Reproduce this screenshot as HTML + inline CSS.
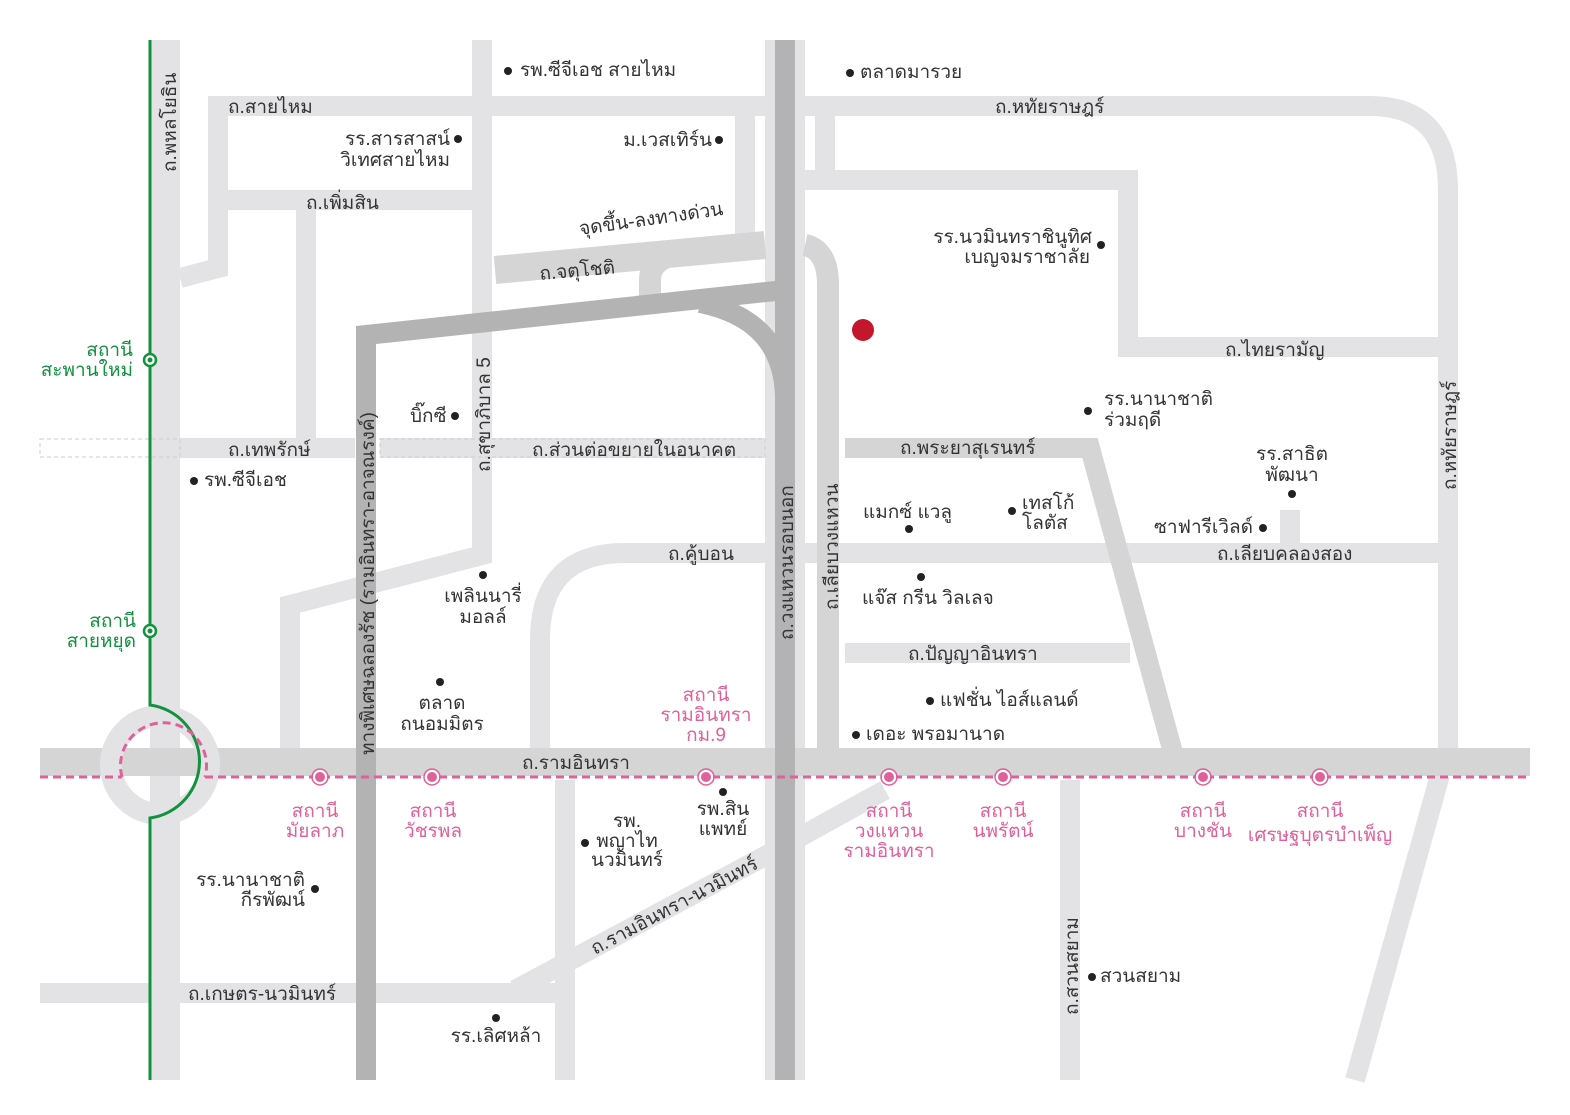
<!DOCTYPE html>
<html><head><meta charset="utf-8"><style>
html,body{margin:0;padding:0;background:#fff}
svg{display:block}
text{font-family:"Liberation Sans","DejaVu Sans",sans-serif;font-size:19px;fill:#333}
.p{fill:#e0609a}
.g{fill:#12923f}
</style></head><body>
<svg width="1570" height="1115" viewBox="0 0 1570 1115">
<g stroke="#e3e3e5" fill="none" stroke-width="20">
<line x1="165" y1="40" x2="165" y2="1080" stroke-width="30"/>
<line x1="208" y1="106" x2="770" y2="106"/>
<path d="M805 106 H1370 Q1448 106 1448 190 V760"/>
<line x1="1440" y1="775" x2="1355" y2="1080"/>
<polyline points="218,106 218,268 180,278"/>
<line x1="228" y1="200" x2="482" y2="200"/>
<line x1="306" y1="200" x2="306" y2="440"/>
<polyline points="482,40 482,555 290,605 290,760"/>
<line x1="745" y1="106" x2="745" y2="240"/>
<line x1="825" y1="106" x2="825" y2="175"/>
<polyline points="805,180 1128,180 1128,347 1448,347"/>
<line x1="180" y1="448" x2="355" y2="448"/>
<line x1="380" y1="448" x2="765" y2="448"/>
<path d="M1440 553 H625 Q540 553 540 640 V760"/>
<line x1="565" y1="780" x2="565" y2="1080"/>
<line x1="845" y1="653" x2="1130" y2="653"/>
<line x1="1290" y1="510" x2="1290" y2="553"/>
<line x1="40" y1="993" x2="560" y2="993"/>
<polyline points="515,990 780,848 885,790"/>
<line x1="1070" y1="780" x2="1070" y2="1080"/>
<line x1="785" y1="40" x2="785" y2="1080" stroke-width="40"/>
</g>
<rect x="40" y="439" width="140" height="18" fill="none" stroke="#ccc" stroke-dasharray="4 3"/>
<rect x="380" y="439" width="385" height="18" fill="none" stroke="#ccc" stroke-dasharray="4 3"/>
<g stroke="#d5d5d5" fill="none">
<line x1="40" y1="762" x2="1530" y2="762" stroke-width="28"/>
<polyline points="845,448 1090,448 1175,760" stroke-width="20"/>
<path d="M805 245 Q828 250 828 285 V750" stroke-width="22"/>
<line x1="495" y1="270" x2="765" y2="245" stroke-width="28"/>
<path d="M650 296 V280 Q650 255 690 253" stroke-width="22"/>
<circle cx="160" cy="765" r="49" stroke-width="22" stroke="#e3e3e5"/>
</g>
<g stroke="#b3b3b3" fill="none" stroke-width="20">
<line x1="785" y1="40" x2="785" y2="1080"/>
<polyline points="366,1080 366,335 785,290"/>
<path d="M700 303 Q785 320 785 400"/>
</g>
<path d="M150 40 V705 A57 57 0 0 1 150 818 V1080" stroke="#12923f" stroke-width="3" fill="none"/>
<circle cx="150" cy="360" r="6" fill="#fff" stroke="#12923f" stroke-width="2.5"/><circle cx="150" cy="360" r="2.5" fill="#12923f"/>
<circle cx="150" cy="631" r="6" fill="#fff" stroke="#12923f" stroke-width="2.5"/><circle cx="150" cy="631" r="2.5" fill="#12923f"/>
<g stroke="#e0609a" stroke-width="3" fill="none" stroke-dasharray="8 5">
<line x1="40" y1="777" x2="122" y2="777"/>
<line x1="205" y1="777" x2="1530" y2="777"/>
<path d="M122 777 A43 43 0 1 1 205 777"/>
</g>
<g fill="#e0609a" stroke="#fff" stroke-width="2">
<circle cx="320" cy="777" r="6"/><circle cx="432" cy="777" r="6"/><circle cx="706" cy="777" r="6"/><circle cx="889" cy="777" r="6"/><circle cx="1003" cy="777" r="6"/><circle cx="1203" cy="777" r="6"/><circle cx="1320" cy="777" r="6"/>
</g>
<g fill="none" stroke="#e0609a" stroke-width="1.5">
<circle cx="320" cy="777" r="8"/><circle cx="432" cy="777" r="8"/><circle cx="706" cy="777" r="8"/><circle cx="889" cy="777" r="8"/><circle cx="1003" cy="777" r="8"/><circle cx="1203" cy="777" r="8"/><circle cx="1320" cy="777" r="8"/>
</g>
<circle cx="863" cy="330" r="11" fill="#c4172c"/>
<g fill="#222">
<circle cx="508" cy="71" r="4"/><circle cx="850" cy="73" r="4"/><circle cx="458" cy="139" r="4"/><circle cx="719" cy="140" r="4"/>
<circle cx="1101" cy="245" r="4"/><circle cx="455" cy="416" r="4"/><circle cx="1088" cy="411" r="4"/><circle cx="194" cy="481" r="4"/>
<circle cx="1292" cy="494" r="4"/><circle cx="909" cy="529" r="4"/><circle cx="1012" cy="511" r="4"/><circle cx="1263" cy="528" r="4"/>
<circle cx="483" cy="575" r="4"/><circle cx="921" cy="577" r="4"/><circle cx="440" cy="682" r="4"/><circle cx="930" cy="701" r="4"/>
<circle cx="856" cy="735" r="4"/><circle cx="723" cy="792" r="4"/><circle cx="585" cy="843" r="4"/><circle cx="315" cy="889" r="4"/>
<circle cx="1092" cy="977" r="4"/><circle cx="496" cy="1018" r="4"/>
</g>
<text x="520" y="76">รพ.ซีจีเอช สายไหม</text>
<text x="860" y="78">ตลาดมารวย</text>
<text x="228" y="113">ถ.สายไหม</text>
<text x="995" y="113">ถ.หทัยราษฎร์</text>
<text x="450" y="145" text-anchor="end">รร.สารสาสน์</text>
<text x="450" y="166" text-anchor="end">วิเทศสายไหม</text>
<text x="712" y="146" text-anchor="end">ม.เวสเทิร์น</text>
<text x="306" y="209">ถ.เพิ่มสิน</text>
<text x="580" y="235" transform="rotate(-8 580 235)" fill="#555">จุดขึ้น-ลงทางด่วน</text>
<text x="540" y="280" transform="rotate(-5 540 280)">ถ.จตุโชติ</text>
<text x="1092" y="243" text-anchor="end">รร.นวมินทราชินูทิศ</text>
<text x="1090" y="263" text-anchor="end">เบญจมราชาลัย</text>
<text x="1225" y="356">ถ.ไทยรามัญ</text>
<text x="1104" y="405">รร.นานาชาติ</text>
<text x="1104" y="426">ร่วมฤดี</text>
<text x="410" y="422">บิ๊กซี</text>
<text x="228" y="456">ถ.เทพรักษ์</text>
<text x="532" y="456">ถ.ส่วนต่อขยายในอนาคต</text>
<text x="900" y="454">ถ.พระยาสุเรนทร์</text>
<text x="1292" y="460" text-anchor="middle">รร.สาธิต</text>
<text x="1292" y="481" text-anchor="middle">พัฒนา</text>
<text x="204" y="486">รพ.ซีจีเอช</text>
<text x="863" y="518">แมกซ์ แวลู</text>
<text x="1022" y="509">เทสโก้</text>
<text x="1022" y="529">โลตัส</text>
<text x="1253" y="533" text-anchor="end">ซาฟารีเวิลด์</text>
<text x="668" y="560">ถ.คู้บอน</text>
<text x="1217" y="560">ถ.เลียบคลองสอง</text>
<text x="483" y="602" text-anchor="middle">เพลินนารี่</text>
<text x="483" y="623" text-anchor="middle">มอลล์</text>
<text x="862" y="604">แจ๊ส กรีน วิลเลจ</text>
<text x="908" y="660">ถ.ปัญญาอินทรา</text>
<text x="442" y="709" text-anchor="middle">ตลาด</text>
<text x="442" y="730" text-anchor="middle">ถนอมมิตร</text>
<text x="940" y="706">แฟชั่น ไอส์แลนด์</text>
<text x="866" y="740">เดอะ พรอมานาด</text>
<text x="522" y="769">ถ.รามอินทรา</text>
<text x="723" y="815" text-anchor="middle">รพ.สิน</text>
<text x="723" y="835" text-anchor="middle">แพทย์</text>
<text x="627" y="827" text-anchor="middle">รพ.</text>
<text x="627" y="847" text-anchor="middle">พญาไท</text>
<text x="627" y="866" text-anchor="middle">นวมินทร์</text>
<text x="305" y="886" text-anchor="end">รร.นานาชาติ</text>
<text x="305" y="906" text-anchor="end">กีรพัฒน์</text>
<text x="595" y="955" transform="rotate(-28 595 955)">ถ.รามอินทรา-นวมินทร์</text>
<text x="1100" y="982">สวนสยาม</text>
<text x="188" y="1000">ถ.เกษตร-นวมินทร์</text>
<text x="496" y="1042" text-anchor="middle">รร.เลิศหล้า</text>
<text transform="translate(176 172) rotate(-90)">ถ.พหลโยธิน</text>
<text transform="translate(490 472) rotate(-90)">ถ.สุขาภิบาล 5</text>
<text transform="translate(374 755) rotate(-90)">ทางพิเศษฉลองรัช (รามอินทรา-อาจณรงค์)</text>
<text transform="translate(793 640) rotate(-90)">ถ.วงแหวนรอบนอก</text>
<text transform="translate(838 610) rotate(-90)">ถ.เลียบวงแหวน</text>
<text transform="translate(1456 490) rotate(-90)">ถ.หทัยราษฎร์</text>
<text transform="translate(1078 1015) rotate(-90)">ถ.สวนสยาม</text>
<text class="g" x="133" y="356" text-anchor="end">สถานี</text><text class="g" x="133" y="376" text-anchor="end">สะพานใหม่</text>
<text class="g" x="136" y="627" text-anchor="end">สถานี</text><text class="g" x="136" y="647" text-anchor="end">สายหยุด</text>
<text class="p" x="706" y="701" text-anchor="middle">สถานี</text><text class="p" x="706" y="721" text-anchor="middle">รามอินทรา</text><text class="p" x="706" y="741" text-anchor="middle">กม.9</text>
<text class="p" x="315" y="817" text-anchor="middle">สถานี</text><text class="p" x="315" y="837" text-anchor="middle">มัยลาภ</text>
<text class="p" x="433" y="817" text-anchor="middle">สถานี</text><text class="p" x="433" y="837" text-anchor="middle">วัชรพล</text>
<text class="p" x="889" y="817" text-anchor="middle">สถานี</text><text class="p" x="889" y="837" text-anchor="middle">วงแหวน</text><text class="p" x="889" y="857" text-anchor="middle">รามอินทรา</text>
<text class="p" x="1003" y="817" text-anchor="middle">สถานี</text><text class="p" x="1003" y="837" text-anchor="middle">นพรัตน์</text>
<text class="p" x="1203" y="817" text-anchor="middle">สถานี</text><text class="p" x="1203" y="837" text-anchor="middle">บางชัน</text>
<text class="p" x="1320" y="817" text-anchor="middle">สถานี</text><text class="p" x="1320" y="841" text-anchor="middle">เศรษฐบุตรบำเพ็ญ</text>
</svg>
</body></html>
